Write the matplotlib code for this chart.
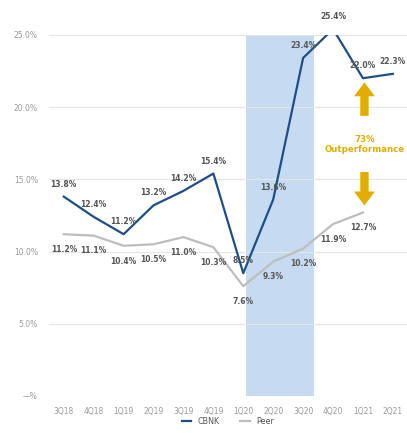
import matplotlib.pyplot as plt

quarters = ['3Q18', '4Q18', '1Q19', '2Q19', '3Q19', '4Q19', '1Q20', '2Q20', '3Q20', '4Q20', '1Q21', '2Q21']
cbnk = [13.8, 12.4, 11.2, 13.2, 14.2, 15.4, 8.5, 13.6, 23.4, 25.4, 22.0, 22.3]
peer = [11.2, 11.1, 10.4, 10.5, 11.0, 10.3, 7.6, 9.3, 10.2, 11.9, 12.7]
yticks = [0, 5, 10, 15, 20, 25]
ytick_labels = ['—%', '5.0%', '10.0%', '15.0%', '20.0%', '25.0%']

blue = '#1f4e86'
grey = '#bdbdbd'
gold = '#e3ac00'

fig = plt.figure(figsize=(4.07, 4.33), dpi=100)
ax = fig.add_axes([0.120, 0.0855, 0.882, 0.834])

x = list(range(len(quarters)))
ax.axvspan(6.1, 8.35, ymin=0, ymax=1, color='#c6dbf1', lw=0, zorder=1)
ax.plot(x, cbnk, color=blue, lw=1.6, label='CBNK', zorder=3)
ax.plot(x[:len(peer)], peer, color=grey, lw=1.6, label='Peer', zorder=3)

for i, v in enumerate(cbnk):
    ax.annotate(f'{v:.1f}%', (i, v), xytext=(0, 9), textcoords='offset points',
                ha='center', va='center', fontsize=5.5, color='#555555',
                fontweight='bold', zorder=4, annotation_clip=False)
for i, v in enumerate(peer):
    ax.annotate(f'{v:.1f}%', (i, v), xytext=(0, -11), textcoords='offset points',
                ha='center', va='center', fontsize=5.5, color='#555555',
                fontweight='bold', zorder=4, annotation_clip=False)

# outperformance arrows
arrow = 'simple,head_width=1.5,head_length=1.0,tail_width=0.6'
ax.annotate('', xy=(10.05, 21.9), xytext=(10.05, 19.2),
            arrowprops=dict(arrowstyle=arrow, color=gold, lw=0))
ax.annotate('', xy=(10.05, 13.0), xytext=(10.05, 15.7),
            arrowprops=dict(arrowstyle=arrow, color=gold, lw=0))
ax.text(10.05, 17.4, '73%\nOutperformance', ha='center', va='center',
        fontsize=6.2, color=gold, fontweight='bold', linespacing=1.15)

ax.set_xlim(-0.5, 11.5)
ax.set_ylim(0, 25)
ax.set_xticks(x)
ax.set_xticklabels(quarters)
ax.set_yticks(yticks)
ax.set_yticklabels(ytick_labels)
ax.tick_params(length=0, labelsize=5.5, colors='#9a9a9a', pad=8)
ax.grid(axis='y', color='#e6e6e6', lw=0.8, zorder=0)
for s in ax.spines.values():
    s.set_visible(False)

fig.legend(loc='lower center', bbox_to_anchor=(0.56, 0.0), ncol=2, frameon=False,
           fontsize=5.8, handlelength=1.2, columnspacing=2.5, labelcolor='#555555')

fig.savefig('out.png', dpi=100)
